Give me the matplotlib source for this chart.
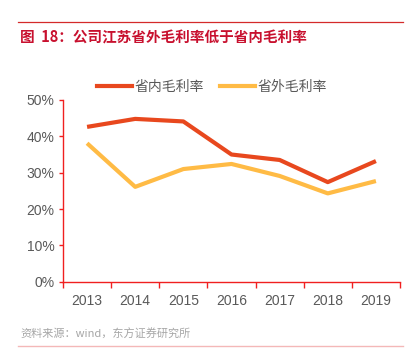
import matplotlib
matplotlib.use("Agg")
import matplotlib.pyplot as plt
from matplotlib.lines import Line2D
from matplotlib.ticker import FixedLocator, FuncFormatter

plt.rcParams['font.family'] = ['Liberation Sans', 'Noto Sans CJK SC', 'DejaVu Sans']

years = ["2013", "2014", "2015", "2016", "2017", "2018", "2019"]
inner = [42.6, 44.8, 44.1, 35.0, 33.5, 27.4, 33.2]
outer = [38.1, 26.1, 31.0, 32.4, 29.1, 24.3, 27.7]
series_names = ["省内毛利率", "省外毛利率"]
title = "图  18：公司江苏省外毛利率低于省内毛利率"
source = "资料来源：wind，东方证券研究所"

W, H = 410, 364
fig = plt.figure(figsize=(W / 100, H / 100), dpi=100)
ax = fig.add_axes([63 / W, 1 - 281.7 / H, (400 - 63) / W, (281.7 - 100) / H])

c_red = "#E8481E"
c_yel = "#FFBB45"
x = list(range(len(years)))
ax.plot(x, [v / 100 for v in inner], color=c_red, lw=3, solid_capstyle="butt")
ax.plot(x, [v / 100 for v in outer], color=c_yel, lw=3, solid_capstyle="butt")

ax.set_xlim(-0.5, len(years) - 0.5)
ax.set_ylim(0, 0.5)
ax.set_yticks([0, 0.1, 0.2, 0.3, 0.4, 0.5])
ax.yaxis.set_major_formatter(FuncFormatter(lambda v, p: f"{v*100:.0f}%"))
ax.set_xticks(x)
ax.set_xticklabels(years)
ax.xaxis.set_minor_locator(FixedLocator([i - 0.5 for i in range(len(years) + 1)]))
ax.tick_params(axis="x", which="major", length=0, pad=9, labelsize=10, labelcolor="#595959")
ax.tick_params(axis="x", which="minor", length=4, width=1, color="#F02020", direction="out")
ax.tick_params(axis="y", which="major", length=3, width=1, color="#F02020", labelsize=10,
               labelcolor="#595959", pad=3)
for s in ["top", "right"]:
    ax.spines[s].set_visible(False)
for s in ["left", "bottom"]:
    ax.spines[s].set_color("#F02020")
    ax.spines[s].set_linewidth(1)

handles = [Line2D([], [], color=c_red, lw=3), Line2D([], [], color=c_yel, lw=3)]
leg = fig.legend(handles, series_names, loc="center", bbox_to_anchor=(212 / W, 1 - 87 / H),
                 ncol=2, frameon=False, fontsize=10, handlelength=2.5, handletextpad=0.15,
                 columnspacing=1.2, labelcolor="#595959", borderpad=0, borderaxespad=0)

fig.add_artist(Line2D([18 / W, 403 / W], [1 - 22 / H, 1 - 22 / H], color="#D42A2A", lw=0.9))
fig.text(20 / W, 1 - 37 / H, title, color="#C8102E", fontsize=10.5, fontweight="bold",
         va="center", ha="left", family=['Noto Sans CJK SC', 'DejaVu Sans'])
fig.text(20 / W, 1 - 334 / H, source, color="#A6A6A6", fontsize=8, va="center", ha="left",
         family=['Noto Sans CJK SC', 'DejaVu Sans'])
fig.add_artist(Line2D([18 / W, 403 / W], [1 - 346 / H, 1 - 346 / H], color="#F4B8B8", lw=1))

fig.savefig("out.png", dpi=100)
